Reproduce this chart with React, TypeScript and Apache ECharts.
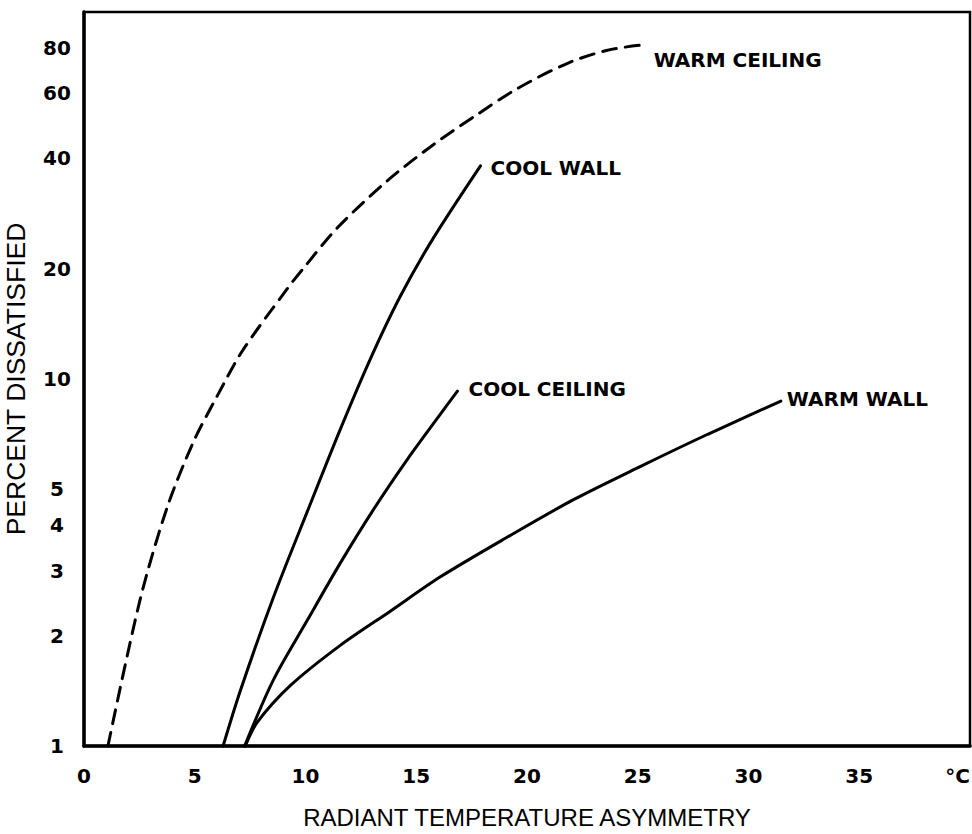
import React, { useEffect, useRef } from "react";
import * as echarts from "echarts";

const xTicks = [0, 5, 10, 15, 20, 25, 30, 35, 40];
const yTicks = [1, 2, 3, 4, 5, 10, 20, 40, 60, 80];

const warmCeiling: [number, number][] = [
  [1.08, 1], [2.53, 2.5], [3.75, 4.46], [4.93, 6.72], [6.01, 8.98], [7.14, 11.9],
  [9.17, 17.6], [9.9, 20.0], [11.43, 25.8], [13.7, 34.7], [15.77, 43.5],
  [17.76, 52.6], [19.57, 61.9], [21.83, 72.5], [23.64, 78.7], [25.13, 81.2],
];
const coolWall: [number, number][] = [
  [6.28, 1], [7.05, 1.41], [8.54, 2.53], [10.08, 4.35], [11.57, 7.29],
  [12.93, 11.35], [14.28, 16.8], [15.77, 24.2], [17.9, 38.1],
];
const coolCeiling: [number, number][] = [
  [7.25, 1], [8.54, 1.51], [10.08, 2.2], [11.57, 3.15], [13.06, 4.4],
  [14.6, 6.04], [16.09, 8.02], [16.86, 9.27],
];
const warmWall: [number, number][] = [
  [7.28, 1], [7.82, 1.16], [9.31, 1.46], [11.57, 1.88], [13.83, 2.33],
  [16.09, 2.89], [19.12, 3.71], [22.1, 4.69], [25.13, 5.78], [28.16, 7.07],
  [31.46, 8.71],
];

const tickFont = {
  fontFamily: "DejaVu Sans",
  fontWeight: "bold" as const,
  fontSize: 20,
  color: "#000",
};
const curveFont = {
  fontFamily: "DejaVu Sans",
  fontWeight: "bold" as const,
  fontSize: 20,
  color: "#000",
};

function mkSeries(
  name: string,
  data: [number, number][],
  dashed: boolean,
  distance: number,
  offset: [number, number]
) {
  return {
    name,
    type: "line",
    data,
    smooth: 0.3,
    showSymbol: false,
    symbol: "none",
    clip: false,
    lineStyle: {
      color: "#000",
      width: 3,
      type: dashed ? [14, 9] : "solid",
      cap: "round",
    },
    endLabel: {
      show: true,
      formatter: name,
      position: "right",
      distance,
      offset,
      ...curveFont,
    },
  };
}

export default function App() {
  const ref = useRef<HTMLDivElement>(null);
  useEffect(() => {
    if (!ref.current) return;
    const chart = echarts.init(ref.current, undefined, { renderer: "svg" });
    chart.setOption({
      animation: false,
      backgroundColor: "#fff",
      grid: {
        left: 84,
        top: 12,
        right: 2,
        bottom: 88,
        containLabel: false,
        outerBoundsMode: "none",
        show: true,
        borderColor: "#000",
        borderWidth: 2.5,
      },
      xAxis: {
        type: "value",
        min: 0,
        max: 40,
        interval: 5,
        name: "RADIANT TEMPERATURE ASYMMETRY",
        nameLocation: "middle",
        nameGap: 59,
        nameTextStyle: {
          fontFamily: "Liberation Sans",
          fontSize: 24,
          color: "#000",
        },
        axisLine: { show: true, lineStyle: { color: "#000", width: 3.5 } },
        axisTick: { show: false },
        splitLine: { show: false },
        axisLabel: {
          margin: 20,
          alignMaxLabel: "right",
          formatter: (v: number) => (v === 40 ? "°C" : String(v)),
          ...tickFont,
        },
      },
      yAxis: {
        type: "log",
        logBase: 10,
        min: 1,
        max: 100,
        name: "PERCENT DISSATISFIED",
        nameLocation: "middle",
        nameGap: 55,
        nameTextStyle: {
          fontFamily: "Liberation Sans",
          fontSize: 26.5,
          color: "#000",
        },
        axisLine: { show: true, lineStyle: { color: "#000", width: 3.5 } },
        axisTick: { show: false },
        splitLine: { show: false },
        axisLabel: {
          customValues: yTicks,
          align: "center",
          margin: 27,
          formatter: (v: number) => String(Math.round(v)),
          ...tickFont,
        },
      },
      series: [
        mkSeries("WARM CEILING", warmCeiling, true, 13, [0, 15]),
        mkSeries("COOL WALL", coolWall, false, 10, [0, 2]),
        mkSeries("COOL CEILING", coolCeiling, false, 11, [0, -2]),
        mkSeries("WARM WALL", warmWall, false, 6, [0, -2]),
      ],
    });
    return () => chart.dispose();
  }, []);
  void xTicks;
  return (
    <div
      ref={ref}
      style={{ position: "absolute", left: 0, top: 0, width: 972, height: 834 }}
    />
  );
}
